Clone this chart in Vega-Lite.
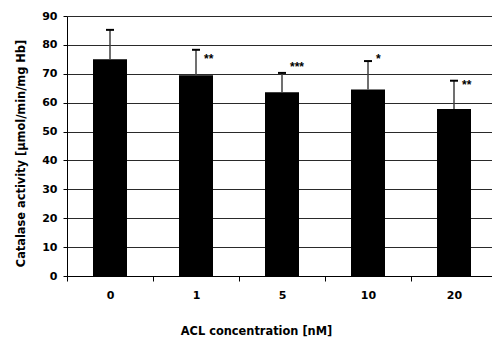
{
  "$schema": "https://vega.github.io/schema/vega-lite/v6.json",
  "autosize": {"type": "none"},
  "padding": {"left": 67, "top": 16, "right": 0, "bottom": 63},
  "width": 430,
  "height": 260,
  "background": "white",
  "config": {
    "font": "DejaVu Sans",
    "view": {"stroke": null},
    "axis": {
      "labelFont": "DejaVu Sans",
      "titleFont": "DejaVu Sans",
      "labelFontSize": 11,
      "titleFontSize": 11.4,
      "labelFontWeight": "bold",
      "titleFontWeight": "bold",
      "labelColor": "black",
      "titleColor": "black",
      "domainColor": "black",
      "tickColor": "black",
      "domainWidth": 1,
      "tickWidth": 1
    },
    "axisY": {
      "grid": true,
      "gridColor": "#2a2a2a",
      "gridWidth": 1,
      "gridOpacity": 1,
      "tickSize": 4,
      "tickCount": 10,
      "labelOverlap": false,
      "labelPadding": 6,
      "titleAngle": 270,
      "titleAlign": "center",
      "titleBaseline": "middle",
      "titleX": -46,
      "titleY": 137
    },
    "axisX": {
      "grid": false,
      "tickSize": 5,
      "labelPadding": 8,
      "labelAngle": 0,
      "tickBand": "extent",
      "titleAlign": "center",
      "titleBaseline": "middle",
      "titleX": 189,
      "titleY": 55
    }
  },
  "data": {
    "values": [
      {"conc": "0", "mean": 75.0, "upper": 85.2, "stars": "", "star_y": 75.0},
      {"conc": "1", "mean": 69.5, "upper": 78.3, "stars": "**", "star_y": 75.1},
      {"conc": "5", "mean": 63.6, "upper": 70.3, "stars": "***", "star_y": 72.4},
      {"conc": "10", "mean": 64.6, "upper": 74.4, "stars": "*", "star_y": 75.2},
      {"conc": "20", "mean": 57.8, "upper": 67.6, "stars": "**", "star_y": 66.1}
    ]
  },
  "encoding": {
    "x": {
      "field": "conc",
      "type": "ordinal",
      "sort": ["0", "1", "5", "10", "20"],
      "scale": {"paddingInner": 0, "paddingOuter": 0},
      "title": "ACL concentration [nM]"
    }
  },
  "layer": [
    {
      "mark": {"type": "bar", "color": "black", "width": 34},
      "encoding": {
        "y": {
          "field": "mean",
          "type": "quantitative",
          "scale": {"domain": [0, 90], "nice": false},
          "axis": {"values": [0, 10, 20, 30, 40, 50, 60, 70, 80, 90], "labelOverlap": false},
          "title": "Catalase activity [µmol/min/mg Hb]"
        }
      }
    },
    {
      "mark": {"type": "rule", "color": "#404040", "strokeWidth": 1.5},
      "encoding": {
        "y": {"field": "mean", "type": "quantitative", "title": "Catalase activity [µmol/min/mg Hb]", "axis": {"values": [0, 10, 20, 30, 40, 50, 60, 70, 80, 90], "labelOverlap": false}},
        "y2": {"field": "upper"}
      }
    },
    {
      "mark": {"type": "tick", "orient": "horizontal", "color": "black", "size": 8, "thickness": 2, "opacity": 1},
      "encoding": {
        "y": {"field": "upper", "type": "quantitative", "title": "Catalase activity [µmol/min/mg Hb]", "axis": {"values": [0, 10, 20, 30, 40, 50, 60, 70, 80, 90], "labelOverlap": false}}
      }
    },
    {
      "mark": {"type": "text", "align": "left", "dx": 8, "fontSize": 12, "fontWeight": "bold", "color": "black", "font": "Liberation Sans"},
      "encoding": {
        "y": {"field": "star_y", "type": "quantitative", "title": "Catalase activity [µmol/min/mg Hb]", "axis": {"values": [0, 10, 20, 30, 40, 50, 60, 70, 80, 90], "labelOverlap": false}},
        "text": {"field": "stars"}
      }
    }
  ]
}
